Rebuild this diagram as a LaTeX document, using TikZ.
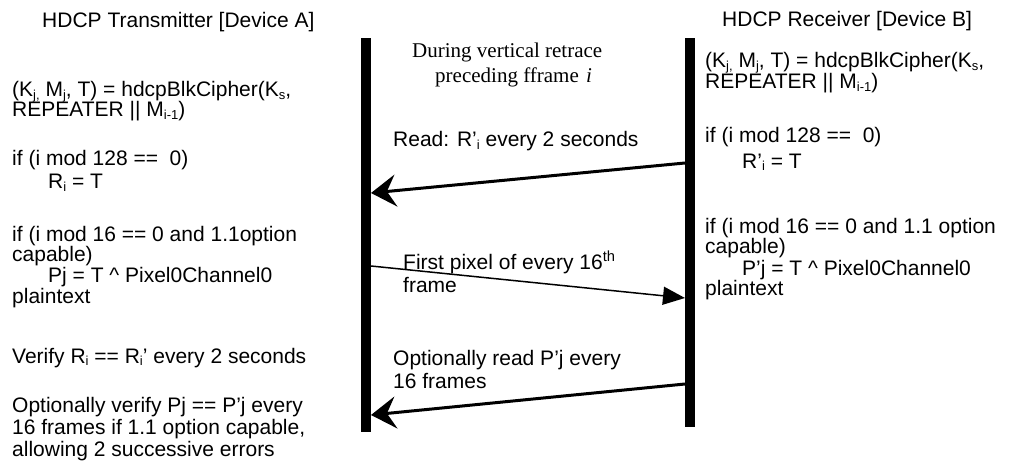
\documentclass[tikz,border=0pt]{standalone}
\usepackage{fontspec}
\setmainfont{Liberation Sans}
\newfontfamily\timesf{Liberation Serif}
\usetikzlibrary{arrows.meta}
\newcommand{\sbs}[1]{\raisebox{-0.1em}[0pt][0pt]{\fontsize{13}{13}\selectfont #1}}
\begin{document}
\begin{tikzpicture}[x=1pt,y=-1pt,
  txt/.style={anchor=base west,inner sep=0pt,font=\fontsize{21}{22}\selectfont},
  ser/.style={anchor=base west,inner sep=0pt,font=\timesf\fontsize{21}{22}\selectfont},
  bar/.style={fill=black,draw=none,inner sep=0pt,minimum width=10pt},
  thickarrow/.style={line width=3pt,-{Stealth[length=25pt,width=32pt,inset=9pt]}},
  thinarrow/.style={line width=1.5pt,-{Triangle[length=22pt,width=18pt]}}]
\useasboundingbox (0,0) rectangle (1032,465);
% lifelines
\node[bar,minimum height=394pt] (barA) at (366,235) {};
\node[bar,minimum height=389pt] (barB) at (690,232.5) {};
% left column
\node[txt] (tA) at (42,28) {HDCP Transmitter [Device A]};
\node[txt] (a1) at (12,97) {(K\sbs{j,} M\sbs{j}, T) = hdcpBlkCipher(K\sbs{s},};
\node[txt] (a2) at (12,117) {REPEATER || M\sbs{i-1})};
\node[txt] (a3) at (12,165) {if (i mod 128 ==\ \ 0)};
\node[txt] (a4) at (48,189) {R\sbs{i} = T};
\node[txt] (a5) at (12,241) {if (i mod 16 == 0 and 1.1option};
\node[txt] (a6) at (12,261) {capable)};
\node[txt] (a7) at (48,282) {Pj = T \textasciicircum{} Pixel0Channel0};
\node[txt] (a8) at (12,303) {plaintext};
\node[txt] (a9) at (12,363) {Verify R\sbs{i} == R\sbs{i}’ every 2 seconds};
\node[txt] (a10) at (12,412) {Optionally verify Pj == P’j every};
\node[txt] (a11) at (12,434) {16 frames if 1.1 option capable,};
\node[txt] (a12) at (12,456) {allowing 2 successive errors};
% right column
\node[txt] (tB) at (722,27) {HDCP Receiver [Device B]};
\node[txt] (b1) at (705,68) {(K\sbs{j,} M\sbs{j}, T) = hdcpBlkCipher(K\sbs{s},};
\node[txt] (b2) at (705,89) {REPEATER || M\sbs{i-1})};
\node[txt] (b3) at (705,143) {if (i mod 128 ==\ \ 0)};
\node[txt] (b4) at (742,168) {R’\sbs{i} = T};
\node[txt] (b5) at (705,233) {if (i mod 16 == 0 and 1.1 option};
\node[txt] (b6) at (705,253) {capable)};
\node[txt] (b7) at (742,275) {P’j = T \textasciicircum{} Pixel0Channel0};
\node[txt] (b8) at (705,295) {plaintext};
% middle
\node[ser] (m1) at (412,58) {During vertical retrace};
\node[ser] (m2) at (435,83) {preceding fframe};
\node[ser] (m3) at (586,83) {\textit{i}};
\node[txt] (l1) at (393,147) {Read: R’\sbs{i} every 2 seconds};
\node[txt] (l2a) at (403,269) {First pixel of every 16\textsuperscript{th}};
\node[txt] (l2b) at (403,292) {frame};
\node[txt] (l3a) at (393,365) {Optionally read P’j every};
\node[txt] (l3b) at (393,388) {16 frames};
% arrow endpoints on lifelines
\coordinate (r1) at (685,163);
\coordinate (e1) at (371,193);
\coordinate (s2) at (371,266);
\coordinate (r2) at (685,298);
\coordinate (r3) at (685,384);
\coordinate (e3) at (371,415);
\draw[thickarrow] (r1) -- (e1);
\draw[thinarrow] (s2) -- (r2);
\draw[thickarrow] (r3) -- (e3);
\end{tikzpicture}
\end{document}
